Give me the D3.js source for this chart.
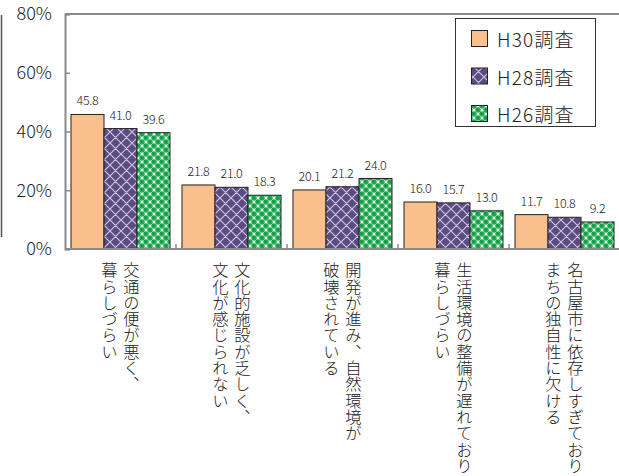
<!DOCTYPE html>
<html><head><meta charset="utf-8">
<script src="https://cdn.jsdelivr.net/npm/d3@7"></script>
<style>
html,body{margin:0;padding:0;background:#fff;}
svg{display:block;}
text{font-family:"Noto Sans CJK JP","Noto Sans",sans-serif;fill:#222;}
</style></head>
<body>
<svg id="chart" width="619" height="476"></svg>
<script>
const categories = [
  ["交通の便が悪く、","暮らしづらい"],
  ["文化的施設が乏しく、","文化が感じられない"],
  ["開発が進み、自然環境が","破壊されている"],
  ["生活環境の整備が遅れており","暮らしづらい"],
  ["名古屋市に依存しすぎており","まちの独自性に欠ける"]
];
const seriesNames = ["H30調査","H28調査","H26調査"];
const h30 = [45.8, 21.8, 20.1, 16.0, 11.7];
const h28 = [41.0, 21.0, 21.2, 15.7, 10.8];
const h26 = [39.6, 18.3, 24.0, 13.0, 9.2];
const yTicks = [0, 20, 40, 60, 80];

const series = [h30, h28, h26];
const svg = d3.select("#chart");
const defs = svg.append("defs");

// purple lattice pattern
const pp = defs.append("pattern").attr("id","pPurple").attr("patternUnits","userSpaceOnUse")
  .attr("width",11).attr("height",11);
pp.append("rect").attr("width",11).attr("height",11).attr("fill","#5b4b80");
pp.append("path").attr("d","M0,0 L11,11 M11,0 L0,11 M-5.5,5.5 L0,11 M5.5,-5.5 L16.5,5.5 M-5.5,5.5 L5.5,-5.5 M5.5,16.5 L16.5,5.5")
  .attr("stroke","#cbc1e0").attr("stroke-width",1.2).attr("fill","none");

// green dotted pattern
const gp = defs.append("pattern").attr("id","pGreen").attr("patternUnits","userSpaceOnUse")
  .attr("width",8).attr("height",8);
gp.append("rect").attr("width",8).attr("height",8).attr("fill","#ffffff");
[[2,2],[6,6],[-2,6],[6,-2],[10,6],[6,10],[2,10],[-2,-2],[10,10],[10,2],[2,-6]].forEach(c=>{
  gp.append("circle").attr("cx",c[0]).attr("cy",c[1]).attr("r",2.75).attr("fill","#1cad4e");
});
[[2,2],[6,6]].forEach(c=>{
  gp.append("circle").attr("cx",c[0]-0.5).attr("cy",c[1]-0.5).attr("r",0.9).attr("fill","#0c8a36");
});

const fills = ["#f9bf8c","url(#pPurple)","url(#pGreen)"];
const legendFills = ["#f9bf8c","url(#pPurple)","url(#pGreen)"];

const mLeft = 65, mRight = 620, mTop = 14, mBottom = 249;
const x0 = d3.scaleBand().domain(d3.range(categories.length)).range([mLeft,mRight]).paddingInner(0).paddingOuter(0);
const x1 = d3.scaleBand().domain(d3.range(series.length)).range([6, x0.bandwidth()-6]);
const y = d3.scaleLinear().domain([0,80]).range([mBottom, mTop]);

const axisColor = "#8a8a8a";

// outer left line
svg.append("line").attr("x1",1.5).attr("x2",1.5).attr("y1",15).attr("y2",237)
  .attr("stroke","#555").attr("stroke-width",1.5);

// top border
svg.append("line").attr("x1",mLeft).attr("x2",619).attr("y1",y(80)).attr("y2",y(80))
  .attr("stroke",axisColor).attr("stroke-width",2);

// bars
categories.forEach((c,i)=>{
  series.forEach((s,j)=>{
    const bx = x0(i)+x1(j);
    svg.append("rect").attr("x",bx).attr("y",y(s[i])).attr("width",x1.bandwidth())
      .attr("height",y(0)-y(s[i])).attr("fill",fills[j]).attr("stroke","#222").attr("stroke-width",1);
    svg.append("text").attr("x",bx+x1.bandwidth()/2).attr("y",y(s[i])-9)
      .attr("text-anchor","middle").attr("font-size",12.5).attr("font-weight",300)
      .attr("letter-spacing","-0.3px")
      .text(s[i].toFixed(1));
  });
});

// y axis
const yAxis = d3.axisLeft(y).tickValues(yTicks).tickSize(-5).tickPadding(13).tickFormat(d=>d+"%");
const ga = svg.append("g").attr("transform",`translate(${mLeft},0)`).call(yAxis);
ga.select(".domain").attr("stroke",axisColor).attr("stroke-width",2);
ga.selectAll(".tick line").attr("stroke",axisColor).attr("stroke-width",1.5);
ga.selectAll(".tick text").attr("font-size",18).attr("fill","#222").attr("font-weight",300)
  .style("font-family","'Noto Sans CJK JP','Noto Sans',sans-serif");

// x axis
const xAxis = d3.axisBottom(x0).tickSize(0).tickFormat("");
const gx = svg.append("g").attr("transform",`translate(0,${mBottom})`).call(xAxis);
gx.select(".domain").attr("stroke",axisColor).attr("stroke-width",2).attr("d",`M${mLeft},0H619`);
d3.range(1,categories.length).forEach(i=>{
  svg.append("line").attr("x1",x0(i)).attr("x2",x0(i)).attr("y1",mBottom).attr("y2",mBottom-5)
    .attr("stroke",axisColor).attr("stroke-width",1.5);
});

// category labels (vertical)
categories.forEach((c,i)=>{
  const cx = x0(i)+x0.bandwidth()/2;
  c.forEach((line,k)=>{
    svg.append("text").attr("x",cx + 11 - 22*k).attr("y",262)
      .style("writing-mode","vertical-rl").attr("font-size",16.3).attr("font-weight",300)
      .text(line);
  });
});

// legend
const lg = svg.append("g");
lg.append("rect").attr("x",455.5).attr("y",18.5).attr("width",140).attr("height",108)
  .attr("fill","#fff").attr("stroke","#333").attr("stroke-width",1);
seriesNames.forEach((n,j)=>{
  const cy = 38.5 + j*37.5;
  lg.append("rect").attr("x",471.5).attr("y",cy-8).attr("width",16).attr("height",16)
    .attr("fill",legendFills[j]).attr("stroke","#222").attr("stroke-width",1);
  lg.append("text").attr("x",497).attr("y",cy).attr("dominant-baseline","central")
    .attr("font-size",19).attr("font-weight",300).attr("letter-spacing","1.2px").text(n);
});
</script>
</body></html>
